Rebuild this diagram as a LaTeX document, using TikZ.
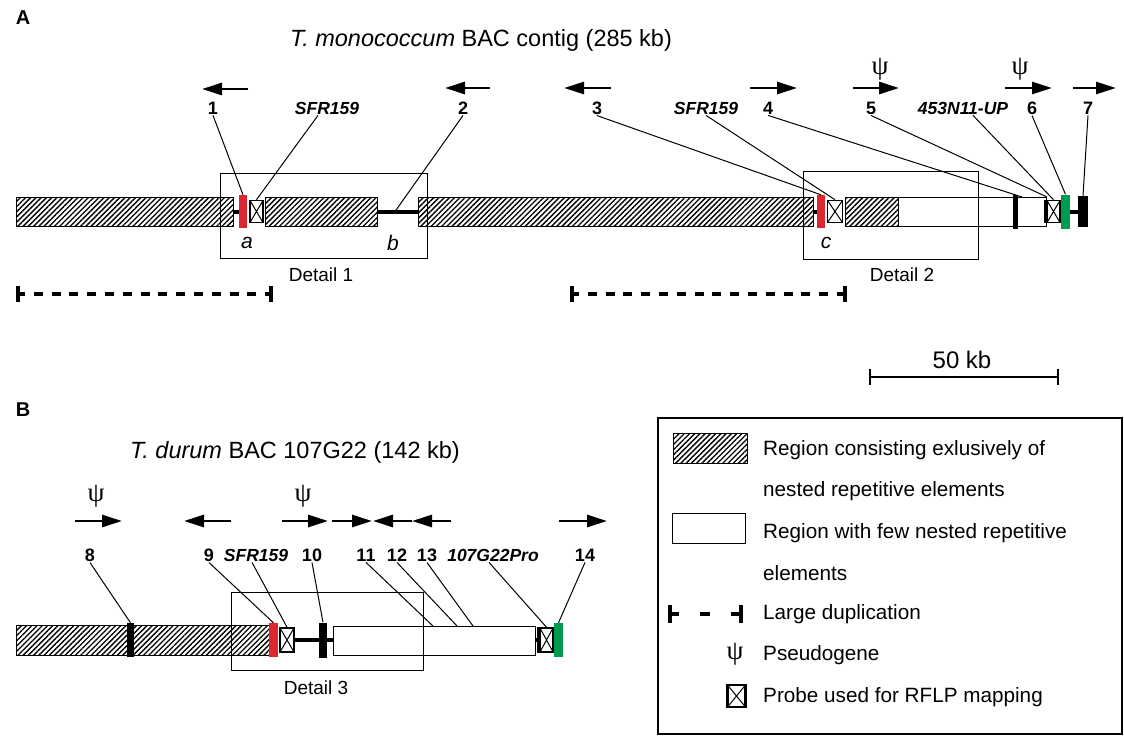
\documentclass[tikz,border=0pt]{standalone}
\usepackage{fontspec}
\setmainfont{Liberation Sans}
\newfontfamily\psifont{Liberation Serif}
\usepackage{tikz}
\usetikzlibrary{arrows.meta,patterns.meta,positioning,calc}

\definecolor{barred}{RGB}{222,38,48}
\definecolor{bargreen}{RGB}{0,155,80}

\tikzset{
  hatchbox/.style={draw, line width=1, pattern={Lines[angle=45,distance=3.7pt,line width=1.35pt]}},
  whitebox/.style={draw, line width=1, fill=white},
  redbar/.style={fill=barred, minimum width=8, minimum height=33, inner sep=0},
  greenbar/.style={fill=bargreen, minimum width=9, minimum height=34, inner sep=0},
  blackbar/.style={fill=black, minimum width=7, minimum height=34, inner sep=0},
  probebox/.style={draw, line width=1.6, fill=white, minimum width=13, minimum height=22, inner sep=0,
    path picture={\draw[line width=1] (path picture bounding box.north west) -- (path picture bounding box.south east)
      (path picture bounding box.north east) -- (path picture bounding box.south west);}},
  thickline/.style={line width=4},
  leaderline/.style={line width=1},
  genearrow/.style={line width=2.8, -{Triangle[length=20pt,width=12pt]}},
  numlabel/.style={font=\fontsize{18}{20}\selectfont\bfseries, inner sep=1},
  probelabel/.style={font=\fontsize{17.5}{20}\selectfont\bfseries\itshape, inner sep=1},
  psilabel/.style={font=\psifont\fontsize{27}{28}\selectfont, inner sep=0},
  detailbox/.style={draw, line width=1},
  detaillabel/.style={font=\fontsize{19}{22}\selectfont},
  siteletter/.style={font=\fontsize{21}{24}\selectfont\itshape},
  titlelabel/.style={font=\fontsize{23.5}{26}\selectfont},
  partlabel/.style={font=\fontsize{20}{22}\selectfont\bfseries},
  legendtext/.style={font=\fontsize{20.7}{24}\selectfont, anchor=west, inner sep=0},
  dupline/.style={line width=4, dash pattern=on 9pt off 8.8pt},
  duptick/.style={line width=4.5}
}

\begin{document}
\begin{tikzpicture}[x=1pt,y=-1pt]
\useasboundingbox (0,0) rectangle (1124,736);

% part A
\node[partlabel] (partA) at (23,18) {A};
\node[titlelabel] (titleA) at (481,40) {\textit{T. monococcum} BAC contig (285 kb)};

\draw[hatchbox] (16,197) rectangle (233,226);
\draw[thickline] (233,211.5) -- (240,211.5);
\node[redbar] (redA) at (243,211.5) {};
\node[probebox] (probeA) at (256.5,211.5) {};
\draw[hatchbox] (265,197) rectangle (377,226);
\draw[thickline] (377,211.5) -- (418,211.5);
\coordinate (siteb) at (395,211.5);
\draw[hatchbox] (418,197) rectangle (813,226);
\draw[thickline] (813,211.5) -- (818,211.5);
\node[redbar] (redC) at (821,211.5) {};
\node[probebox, minimum width=15] (probeC) at (835,211.5) {};
\draw[hatchbox] (845,197) rectangle (898,226);
\draw[whitebox] (898,197) rectangle (1046,226);
\node[blackbar, minimum width=5] (bar4) at (1015.5,211.5) {};
\coordinate (end4) at (1022,197);
\coordinate (end5) at (1047,197);
\node[probebox] (probeD) at (1053.5,211.5) {};
\draw[line width=3.5] (probeD.north west) -- (probeD.south west);
\node[greenbar] (greenA) at (1065.5,211.5) {};
\draw[thickline] (1070,211.5) -- (1078,211.5);
\node[blackbar, minimum width=10, minimum height=31] (bar7) at (1083,211.5) {};

\draw[detailbox] (220,173) rectangle (427,258);
\node[siteletter] (sa) at (247,243) {a};
\node[siteletter] (sb) at (393,243) {b};
\node[detaillabel] (detail1) at (321,275) {Detail 1};
\draw[detailbox] (803,171) rectangle (978,259);
\node[siteletter] (sc) at (826,243) {c};
\node[detaillabel] (detail2) at (902,275) {Detail 2};

\draw[dupline] (16,294) -- (273,294);
\draw[duptick] (18,286) -- (18,302);
\draw[duptick] (271,286) -- (271,302);
\draw[dupline] (570,294) -- (847,294);
\draw[duptick] (572,286) -- (572,302);
\draw[duptick] (845,286) -- (845,302);

\draw[genearrow] (248,89) -- (202,89);
\node[numlabel] (n1) at (213,108) {1};
\node[probelabel] (s1) at (327,108) {SFR159};
\draw[genearrow] (490,88) -- (445,88);
\node[numlabel] (n2) at (463,108) {2};
\draw[genearrow] (611,88) -- (564,88);
\node[numlabel] (n3) at (597,108) {3};
\node[probelabel] (s2) at (706,108) {SFR159};
\draw[genearrow] (750,88) -- (797,88);
\node[numlabel] (n4) at (768,108) {4};
\node[psilabel] (psi5) at (880,69) {ψ};
\draw[genearrow] (853,88) -- (899,88);
\node[numlabel] (n5) at (871,108) {5};
\node[probelabel] (s3) at (963,108) {453N11-UP};
\node[psilabel] (psi6) at (1020,69) {ψ};
\draw[genearrow] (1005,88) -- (1052,88);
\node[numlabel] (n6) at (1032,108) {6};
\draw[genearrow] (1073,88) -- (1116,88);
\node[numlabel] (n7) at (1088,108) {7};

\draw[leaderline] (n1.south) -- (redA.north);
\draw[leaderline] ($(s1.south)+(-9,0)$) -- (probeA.north);
\draw[leaderline] (n2.south) -- (siteb);
\draw[leaderline] (n3.south) -- (redC.north);
\draw[leaderline] (s2.south) -- (probeC.north);
\draw[leaderline] (n4.south) -- (end4);
\draw[leaderline] (n5.south) -- (end5);
\draw[leaderline] ($(s3.south)+(10,0)$) -- (probeD.north);
\draw[leaderline] (n6.south) -- (greenA.north);
\draw[leaderline] (n7.south) -- (bar7.north);

% scale
\node[font=\fontsize{24}{26}\selectfont] (scale) at (962,360) {50 kb};
\draw[line width=2] (870,377) -- (1058,377);
\draw[line width=2] (870,369) -- (870,385);
\draw[line width=2] (1058,369) -- (1058,385);

% part B
\node[partlabel] (partB) at (23,410) {B};
\node[titlelabel] (titleB) at (295,452) {\textit{T. durum} BAC 107G22 (142 kb)};

\draw[hatchbox] (16,625) rectangle (269,655);
\node[blackbar] (bar8) at (130.5,640) {};
\node[redbar, minimum width=9, minimum height=34] (redB) at (273.5,640) {};
\node[probebox, minimum width=14, minimum height=24] (probeB) at (287,640) {};
\draw[thickline] (294,640) -- (320,640);
\node[blackbar, minimum width=8, minimum height=35] (bar10) at (323,640) {};
\draw[thickline] (327,640) -- (333,640);
\draw[whitebox] (333,626) rectangle (535,655);
\coordinate (c11) at (433,626);
\coordinate (c12) at (457,626);
\coordinate (c13) at (473,626);
\draw[thickline] (535,640) -- (540,640);
\node[probebox, minimum height=24] (probeE) at (546.5,640) {};
\draw[line width=3.5] (probeE.north west) -- (probeE.south west);
\node[greenbar, minimum height=34] (greenB) at (558.5,640) {};

\draw[detailbox] (231,592) rectangle (423,670);
\node[detaillabel] (detail3) at (316,688) {Detail 3};

\node[psilabel] (psi8) at (96,496) {ψ};
\draw[genearrow] (75,521) -- (122,521);
\node[numlabel] (n8) at (90,555) {8};
\draw[genearrow] (231,521) -- (184,521);
\node[numlabel] (n9) at (209,555) {9};
\node[probelabel] (s4) at (256,555) {SFR159};
\node[psilabel] (psi10) at (303,496) {ψ};
\draw[genearrow] (282,521) -- (328,521);
\node[numlabel] (n10) at (312,555) {10};
\draw[genearrow] (332,521) -- (372,521);
\node[numlabel] (n11) at (366,555) {11};
\draw[genearrow] (412,521) -- (373,521);
\node[numlabel] (n12) at (397,555) {12};
\draw[genearrow] (451,521) -- (412,521);
\node[numlabel] (n13) at (427,555) {13};
\node[probelabel] (s5) at (493,555) {107G22Pro};
\draw[genearrow] (559,521) -- (607,521);
\node[numlabel] (n14) at (585,555) {14};

\draw[leaderline] (n8.south) -- (bar8.north);
\draw[leaderline] (n9.south) -- (redB.north);
\draw[leaderline] ($(s4.south)+(-4,0)$) -- (probeB.north);
\draw[leaderline] (n10.south) -- (bar10.north);
\draw[leaderline] (n11.south) -- (c11);
\draw[leaderline] (n12.south) -- (c12);
\draw[leaderline] (n13.south) -- (c13);
\draw[leaderline] ($(s5.south)+(-4,0)$) -- (probeE.north);
\draw[leaderline] (n14.south) -- (greenB.north);

% legend
\draw[line width=2] (658,418) rectangle (1122,734);
\draw[hatchbox] (673,433) rectangle (747,463);
\node[legendtext] (lg1) at (763,450) {Region consisting exlusively of};
\node[legendtext] (lg1b) at (763,491) {nested repetitive elements};
\draw[whitebox] (672,513) rectangle (745,543);
\node[legendtext] (lg2) at (763,533) {Region with few nested repetitive};
\node[legendtext] (lg2b) at (763,573) {elements};
\draw[duptick] (670,605) -- (670,623);
\draw[thickline] (670,614) -- (679,614);
\draw[thickline] (700,614) -- (710,614);
\draw[thickline] (731,614) -- (741,614);
\draw[duptick] (741,605) -- (741,623);
\node[legendtext] (lg3) at (763,614) {Large duplication};
\node[psilabel] (lgpsi) at (735,654) {ψ};
\node[legendtext] (lg4) at (763,655) {Pseudogene};
\node[probebox, minimum width=18, minimum height=22, line width=2.5] (lgprobe) at (736.5,696) {};
\node[legendtext] (lg5) at (763,697) {Probe used for RFLP mapping};
\end{tikzpicture}
\end{document}
